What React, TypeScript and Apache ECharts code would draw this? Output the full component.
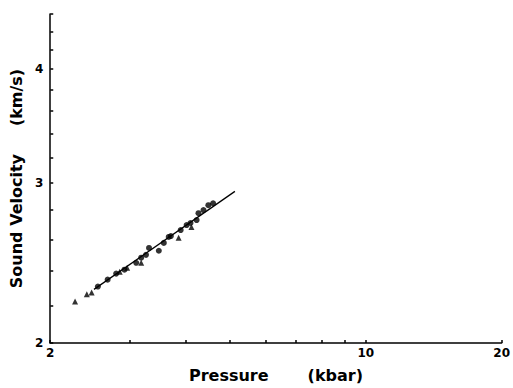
import React, { useEffect, useRef } from "react";
import * as echarts from "echarts";

// Measured data (pressure in kbar, sound velocity in km/s)
const circlePressure = [2.55, 2.68, 2.8, 2.92, 3.1, 3.18, 3.26, 3.31, 3.48, 3.57, 3.66, 3.7, 3.89, 4.01, 4.09, 4.22, 4.26, 4.37, 4.48, 4.59];
const circleVelocity = [2.307, 2.348, 2.384, 2.408, 2.45, 2.482, 2.5, 2.544, 2.526, 2.577, 2.616, 2.622, 2.662, 2.696, 2.71, 2.73, 2.778, 2.8, 2.835, 2.849];
const trianglePressure = [2.27, 2.41, 2.47, 2.85, 2.96, 3.18, 3.85, 4.11];
const triangleVelocity = [2.222, 2.262, 2.273, 2.396, 2.42, 2.45, 2.61, 2.682];
const fitPressure = [2.5, 5.13];
const fitVelocity = [2.291, 2.936];

const xRange = [2, 20];
const yRange = [2, 4.6];
const xTickValues = [2, 3, 4, 5, 6, 7, 8, 9, 10, 20];
const xLabelValues = [2, 10, 20];
const yTickValues = [2, 2.2, 2.4, 2.6, 2.8, 3, 3.2, 3.4, 3.6, 3.8, 4, 4.2, 4.4, 4.6];
const yLabelValues = [2, 3, 4];

const lg = (v: number) => Math.log10(v);
const pairs = (xs: number[], ys: number[]) => xs.map((x, i) => [lg(x), lg(ys[i])]);

export default function App() {
  const ref = useRef<HTMLDivElement>(null);
  useEffect(() => {
    if (!ref.current) return;
    const chart = echarts.init(ref.current, null, { renderer: "svg" });
    const font = "DejaVu Sans";
    const fmt = (v: number) => String(Math.round(Math.pow(10, v) * 10) / 10);
    chart.setOption({
      animation: false,
      backgroundColor: "#ffffff",
      grid: { left: 45, right: 11, top: 14, bottom: 42, containLabel: false },
      xAxis: {
        type: "value",
        min: lg(xRange[0]),
        max: lg(xRange[1]),
        splitLine: { show: false },
        axisLine: { show: true, lineStyle: { color: "#000", width: 1.5 } },
        axisTick: {
          show: true,
          inside: true,
          length: 3,
          customValues: xTickValues.map(lg),
          lineStyle: { color: "#000", width: 1.5 },
        },
        axisLabel: {
          customValues: xLabelValues.map(lg),
          formatter: fmt,
          color: "#000",
          fontFamily: font,
          fontWeight: "bold",
          fontSize: 12,
          margin: 4,
          showMinLabel: true,
          showMaxLabel: true,
        },
        name: "Pressure       (kbar)",
        nameLocation: "middle",
        nameGap: 24,
        nameTextStyle: { color: "#000", fontFamily: font, fontWeight: "bold", fontSize: 16 },
      },
      yAxis: {
        type: "value",
        min: lg(yRange[0]),
        max: lg(yRange[1]),
        splitLine: { show: false },
        axisLine: { show: true, lineStyle: { color: "#000", width: 1.5 } },
        axisTick: {
          show: true,
          inside: true,
          length: 3,
          customValues: yTickValues.map(lg),
          lineStyle: { color: "#000", width: 1.5 },
        },
        axisLabel: {
          customValues: yLabelValues.map(lg),
          formatter: fmt,
          color: "#000",
          fontFamily: font,
          fontWeight: "bold",
          fontSize: 12,
          margin: 7,
          showMinLabel: true,
          showMaxLabel: true,
        },
        name: "Sound Velocity     (km/s)",
        nameLocation: "middle",
        nameGap: 24,
        nameRotate: 90,
        nameTextStyle: { color: "#000", fontFamily: font, fontWeight: "bold", fontSize: 16 },
      },
      series: [
        {
          type: "line",
          data: pairs(fitPressure, fitVelocity),
          showSymbol: false,
          lineStyle: { color: "#000", width: 1.3 },
          z: 2,
        },
        {
          type: "scatter",
          data: pairs(circlePressure, circleVelocity),
          symbol: "circle",
          symbolSize: 6,
          itemStyle: { color: "#000" },
          z: 3,
        },
        {
          type: "scatter",
          data: pairs(trianglePressure, triangleVelocity),
          symbol: "triangle",
          symbolSize: 6,
          itemStyle: { color: "#000" },
          z: 3,
        },
      ],
    });
    return () => chart.dispose();
  }, []);
  return (
    <div
      ref={ref}
      style={{ position: "fixed", left: 0, top: 0, width: 513, height: 388 }}
    />
  );
}
